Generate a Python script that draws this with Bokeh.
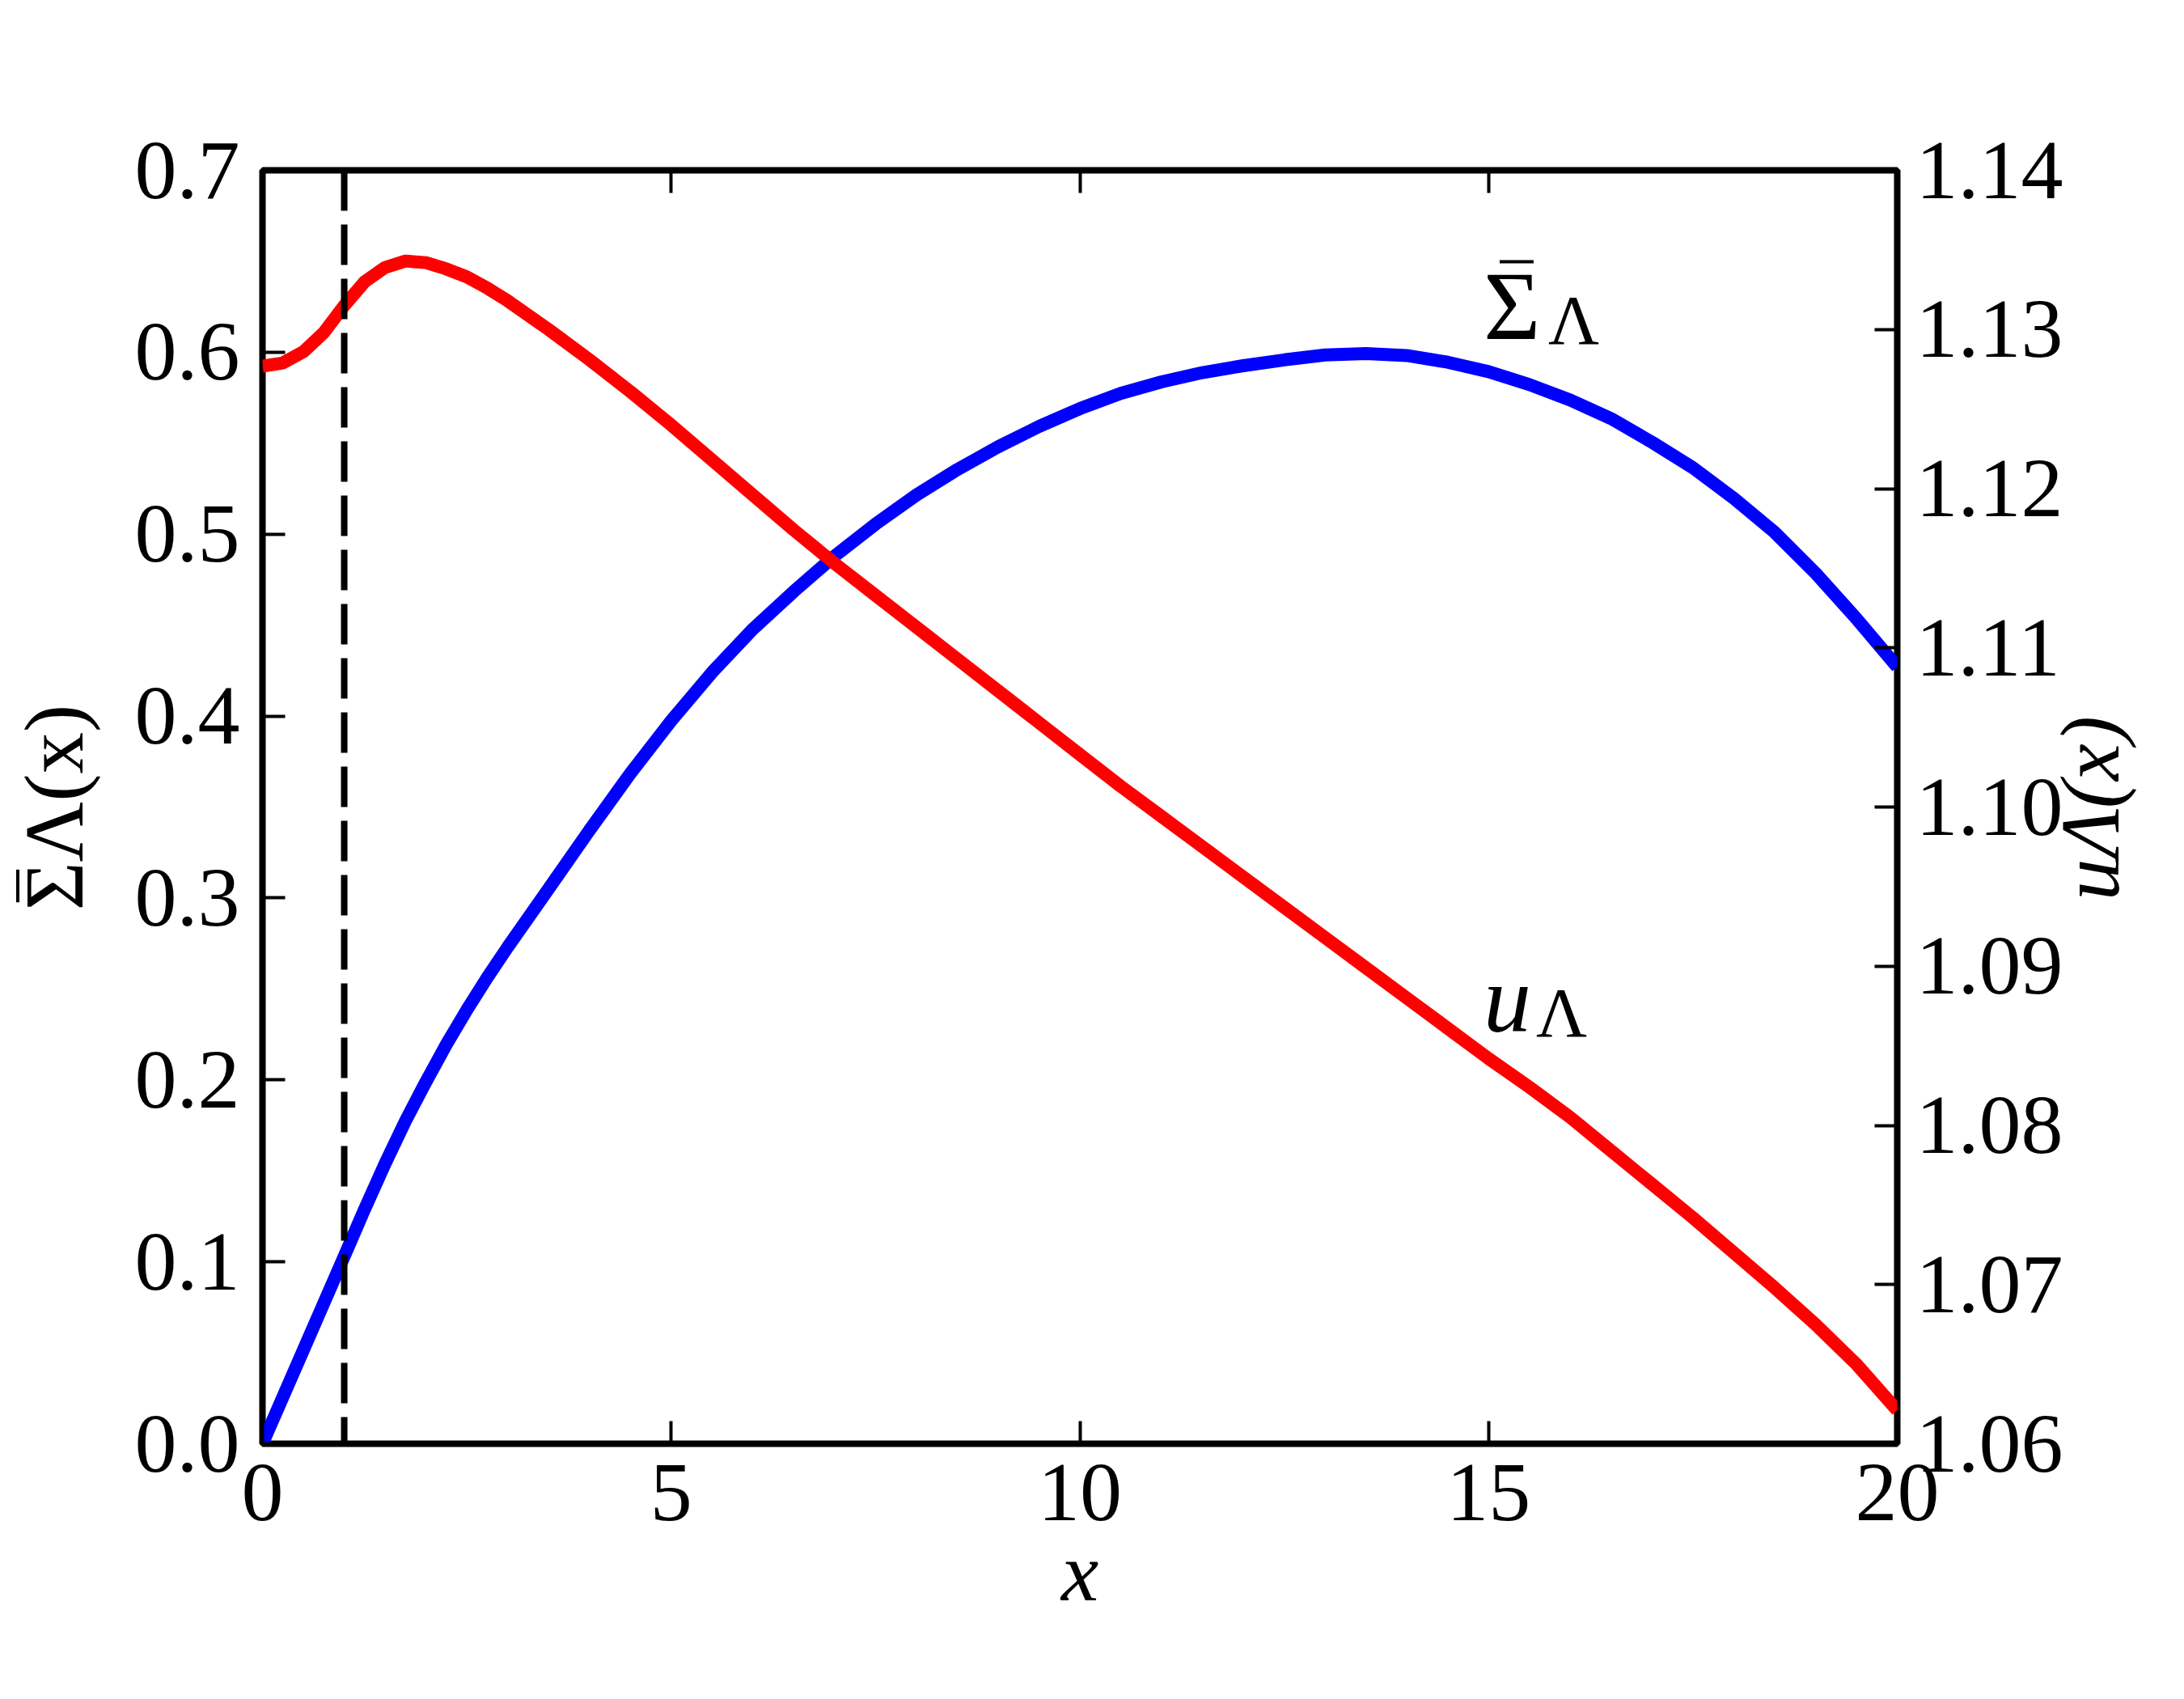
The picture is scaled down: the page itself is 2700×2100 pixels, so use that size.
import math
from bokeh.plotting import figure
from bokeh.models import Range1d, LinearAxis, FixedTicker, Label
from bokeh.embed import file_html
from bokeh.resources import INLINE

# ---------------- data ----------------
x_sigma = [0.0, 0.5, 1.0, 1.25, 1.5, 1.75, 2.0, 2.25, 2.5, 2.75, 3.0, 3.5, 4.0,
           4.5, 5.0, 5.5, 6.0, 6.5, 7.0, 7.5, 8.0, 8.5, 9.0, 9.5, 10.0, 10.5,
           11.0, 11.5, 12.0, 12.5, 13.0, 13.5, 14.0, 14.5, 15.0, 15.5, 16.0,
           16.5, 17.0, 17.5, 18.0, 18.5, 19.0, 19.5, 20.0]
sigma_bar = [0.0, 0.0515, 0.1030, 0.1290, 0.1540, 0.1775, 0.1990, 0.2195,
             0.2385, 0.2563, 0.2730, 0.3050, 0.3372, 0.3684, 0.3974, 0.4240,
             0.4478, 0.4685, 0.4880, 0.5055, 0.5215, 0.5355, 0.5480, 0.5592,
             0.5690, 0.5774, 0.5837, 0.5888, 0.5926, 0.5958, 0.5985, 0.5993,
             0.5982, 0.5945, 0.5893, 0.5822, 0.5737, 0.5635, 0.5505, 0.5365,
             0.5197, 0.5010, 0.4786, 0.4536, 0.4270]

x_u = [0.0, 0.25, 0.5, 0.75, 1.0, 1.25, 1.5, 1.75, 2.0, 2.25, 2.5, 2.75, 3.0,
       3.5, 4.0, 4.5, 5.0, 5.5, 6.0, 6.5, 7.0, 7.5, 8.0, 8.5, 9.0, 9.5, 10.0,
       10.5, 11.0, 11.5, 12.0, 12.5, 13.0, 13.5, 14.0, 14.5, 15.0, 15.5, 16.0,
       16.5, 17.0, 17.5, 18.0, 18.5, 19.0, 19.5, 20.0]
u_lambda = [1.1277, 1.1279, 1.1286, 1.1298, 1.1315, 1.1330, 1.1339, 1.1343,
            1.1342, 1.1338, 1.1333, 1.1326, 1.1318, 1.1300, 1.1281, 1.1261,
            1.1240, 1.1218, 1.1196, 1.1174, 1.1153, 1.1133, 1.1113, 1.1093,
            1.1073, 1.1053, 1.1033, 1.1013, 1.0994, 1.0975, 1.0956, 1.0937,
            1.0918, 1.0899, 1.0880, 1.0861, 1.0842, 1.0824, 1.0805, 1.0784,
            1.0763, 1.0742, 1.0720, 1.0698, 1.0675, 1.0650, 1.0621]

x_cut = [1.0, 1.0]
cut_span = [0.7, 0.0]

x_ticks = [0, 5, 10, 15, 20]
x_tick_labels = ["0", "5", "10", "15", "20"]
sigma_ticks = [0.0, 0.1, 0.2, 0.3, 0.4, 0.5, 0.6, 0.7]
sigma_tick_labels = ["0.0", "0.1", "0.2", "0.3", "0.4", "0.5", "0.6", "0.7"]
u_ticks = [1.06, 1.07, 1.08, 1.09, 1.10, 1.11, 1.12, 1.13, 1.14]
u_tick_labels = ["1.06", "1.07", "1.08", "1.09", "1.10", "1.11", "1.12", "1.13", "1.14"]

x_title = "x"
sigma_title = "\u03a3\u039b(x)"
sigma_title_bar = "\u203e"
u_title = "u\u039b(x)"

FONT = "Liberation Serif"
TICK_SIZE = "104px"

# ---------------- figure ----------------
p = figure(width=2700, height=2092,
           x_range=Range1d(0, 20), y_range=Range1d(0, 0.7),
           output_backend="svg", toolbar_location=None,
           min_border_left=324, min_border_right=353,
           min_border_top=210, min_border_bottom=308)
p.extra_y_ranges = {"u": Range1d(1.06, 1.14)}
p.xgrid.visible = False
p.ygrid.visible = False
p.background_fill_color = "white"
p.border_fill_color = "white"
p.outline_line_color = "black"
p.outline_line_width = 8


def style_axis(ax, standoff):
    ax.axis_line_color = None
    ax.major_tick_in = 28
    ax.major_tick_out = 0
    ax.major_tick_line_width = 4
    ax.major_tick_line_color = "black"
    ax.minor_tick_line_color = None
    ax.major_label_text_font = FONT
    ax.major_label_text_font_size = TICK_SIZE
    ax.major_label_text_color = "black"
    ax.major_label_standoff = standoff
    ax.axis_label_text_color = "black"


def title_axis(ax, standoff, size, italic):
    ax.axis_line_color = None
    ax.major_tick_line_color = None
    ax.minor_tick_line_color = None
    ax.major_tick_in = 0
    ax.major_tick_out = 0
    ax.major_label_standoff = standoff
    ax.major_label_text_font = FONT
    ax.major_label_text_font_size = size
    ax.major_label_text_font_style = "italic" if italic else "normal"
    ax.major_label_text_color = "black"


xa = p.xaxis[0]
xa.ticker = FixedTicker(ticks=x_ticks)
xa.major_label_overrides = {t: s for t, s in zip(x_ticks, x_tick_labels)}
style_axis(xa, 26)
xa.axis_label = x_title
xa.axis_label_text_font = FONT
xa.axis_label_text_font_style = "italic"
xa.axis_label_text_font_size = "104px"
xa.axis_label_standoff = 3

ya = p.yaxis[0]
ya.ticker = FixedTicker(ticks=sigma_ticks)
ya.major_label_overrides = {t: s for t, s in zip(sigma_ticks, sigma_tick_labels)}
style_axis(ya, 28)

ra = LinearAxis(y_range_name="u", ticker=FixedTicker(ticks=u_ticks))
ra.major_label_overrides = {t: s for t, s in zip(u_ticks, u_tick_labels)}
style_axis(ra, 23)
p.add_layout(ra, "right")

ta = LinearAxis(ticker=FixedTicker(ticks=x_ticks))
style_axis(ta, 0)
ta.major_label_text_font_size = "0px"
ta.major_label_text_alpha = 0
p.add_layout(ta, "above")

# ---------------- axis titles (as tick labels of helper axes) ----------------
YS = 2248.6   # px per sigma unit
US = 19675.0  # px per u unit

# left title, centred on the frame; the overline sits on the Sigma
sig_c = (1784 - 997.5) / YS
bar_c = (1784 - 1094.5) / YS
yl = LinearAxis(ticker=FixedTicker(ticks=[sig_c, bar_c]),
                major_label_overrides={sig_c: sigma_title, bar_c: sigma_title_bar})
title_axis(yl, 39, "103px", False)
yl.major_label_orientation = "parallel"
p.add_layout(yl, "left")

# right title, reading upwards, starting at its lower end
u_start = 1.06 + (1784 - 1112.5) / US
yr = LinearAxis(y_range_name="u", ticker=FixedTicker(ticks=[u_start]),
                major_label_overrides={u_start: u_title})
title_axis(yr, 30, "103px", True)
yr.major_label_orientation = math.pi / 2
p.add_layout(yr, "right")

# ---------------- curves ----------------
p.line(x_sigma, sigma_bar, line_color="#0000ff", line_width=16)
p.line(x_u, u_lambda, line_color="#ff0000", line_width=16, y_range_name="u")
p.line(x_cut, cut_span, line_color="black", line_width=8, line_dash="50 17")

# ---------------- in-plot labels ----------------
XS = 101.15   # px per x unit
LIFT = 41     # baseline correction for Label rendering


def dx(px):
    return (px - 324) / XS


def dy(py):
    return (1784 - py) / YS


def lab(text, px, py, size, italic=False):
    p.add_layout(Label(x=dx(px), y=dy(py - LIFT), text=text, text_font=FONT,
                       text_font_size=size,
                       text_font_style="italic" if italic else "normal",
                       text_baseline="alphabetic", text_align="left",
                       text_color="black"))


lab("\u03a3", 1835, 418, "121px")
lab("\u039b", 1915, 436, "87px")
lab("u", 1835, 1276, "118px", italic=True)
lab("\u039b", 1900, 1292, "87px")
p.segment(x0=[dx(1855)], y0=[dy(323)], x1=[dx(1897)], y1=[dy(323)],
          line_color="black", line_width=4)

open("out.html", "w").write(file_html(p, INLINE))
